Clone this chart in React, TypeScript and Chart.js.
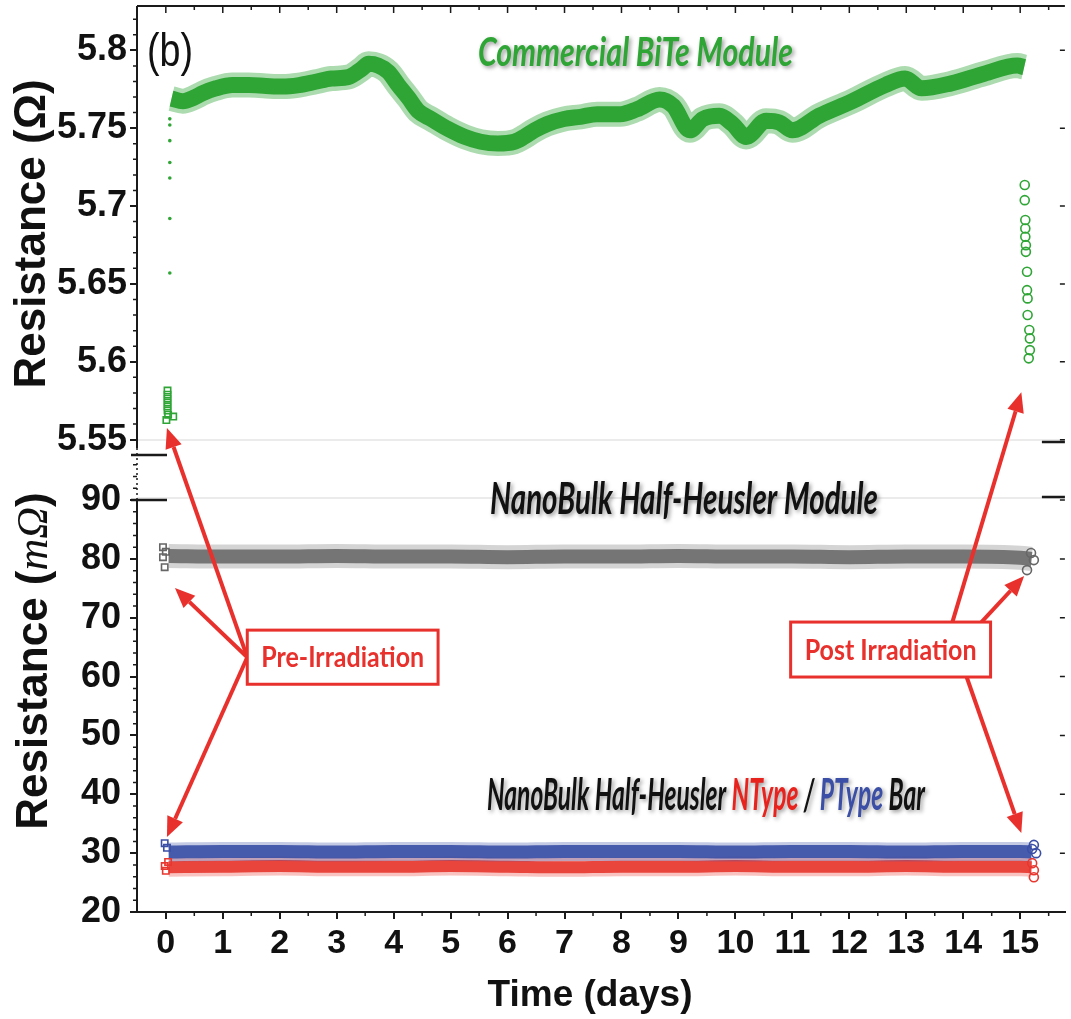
import { useEffect, useRef } from 'react';
import { Chart, registerables } from 'chart.js';

Chart.register(...registerables);

// ---- Commercial BiTe module, resistance in Ω ----
// trace through the dense band of readings
const biteDays = [0.1, 0.3, 0.48, 0.65, 0.88, 1.17, 1.46, 1.76, 2.05, 2.34, 2.63, 2.91, 3.21, 3.44, 3.56, 3.73, 3.91, 4.08, 4.26, 4.43, 4.66, 4.95, 5.25, 5.53, 5.83, 6.12, 6.29, 6.47, 6.7, 6.99, 7.28, 7.57, 7.98, 8.27, 8.67, 8.91, 9.2, 9.43, 9.72, 9.95, 10.19, 10.54, 10.77, 11.0, 11.47, 12.05, 12.63, 12.98, 13.27, 13.79, 14.37, 14.95, 15.07];
const biteOhm = [5.769, 5.7673, 5.7694, 5.7725, 5.7756, 5.7777, 5.7777, 5.7771, 5.7767, 5.7777, 5.7798, 5.7819, 5.7829, 5.7881, 5.7913, 5.7902, 5.786, 5.7777, 5.7694, 5.761, 5.7559, 5.7496, 5.7444, 5.7413, 5.7402, 5.7413, 5.7444, 5.7486, 5.7527, 5.7559, 5.7573, 5.759, 5.759, 5.7621, 5.7684, 5.7642, 5.7486, 5.7559, 5.758, 5.7527, 5.7444, 5.7548, 5.7537, 5.7486, 5.758, 5.7673, 5.7777, 5.7819, 5.7756, 5.7788, 5.785, 5.7902, 5.7892];
// first readings, rising to the steady level
const biteStartDays = [0.07, 0.07, 0.07, 0.07, 0.07, 0.07, 0.07];
const biteStartOhm = [5.657, 5.692, 5.718, 5.728, 5.742, 5.752, 5.756];
// pre-irradiation readings
const bitePreDays = [0.03, 0.03, 0.03, 0.03, 0.03, 0.03, 0.01, 0.13, 0.04];
const bitePreOhm = [5.5815, 5.5789, 5.5763, 5.5738, 5.5712, 5.5687, 5.5626, 5.5648, 5.566];
// post-irradiation readings
const bitePostDays = [15.08, 15.08, 15.09, 15.09, 15.09, 15.1, 15.1, 15.12, 15.12, 15.13, 15.13, 15.16, 15.17, 15.17, 15.15];
const bitePostOhm = [5.7135, 5.7038, 5.691, 5.6856, 5.6803, 5.6749, 5.6706, 5.6578, 5.646, 5.6407, 5.63, 5.6204, 5.615, 5.6075, 5.6022];

// ---- NanoBulk half-Heusler module and bars, resistance in mΩ ----
const hhDays = [0.05, 1, 2, 3, 4, 5, 6, 7, 8, 9, 10, 11, 12, 13, 14, 15, 15.2];
const hhModule = [80.5, 80.4, 80.4, 80.5, 80.4, 80.4, 80.3, 80.4, 80.4, 80.5, 80.4, 80.4, 80.3, 80.4, 80.4, 80.2, 80.0];
const hhNType = [27.6, 27.7, 27.8, 27.7, 27.7, 27.8, 27.7, 27.6, 27.7, 27.7, 27.8, 27.7, 27.7, 27.8, 27.7, 27.7, 27.6];
const hhPType = [30.2, 30.3, 30.3, 30.2, 30.3, 30.3, 30.2, 30.3, 30.3, 30.3, 30.2, 30.3, 30.3, 30.2, 30.3, 30.3, 30.2];
const modulePreDays = [-0.05, -0.05, -0.02, 0.0];
const modulePreVal = [82.0, 80.3, 78.6, 81.2];
const modulePostDays = [15.24, 15.12, 15.19];
const modulePostVal = [79.8, 78.1, 81.0];
const pTypePreDays = [-0.02, 0.02];
const pTypePreVal = [31.7, 30.9];
const nTypePreDays = [-0.02, 0.0, 0.04];
const nTypePreVal = [27.8, 27.0, 28.5];
const pTypePostDays = [15.24, 15.28, 15.21];
const pTypePostVal = [31.4, 30.0, 30.7];
const nTypePostDays = [15.21, 15.24, 15.24];
const nTypePostVal = [28.3, 27.1, 25.9];

// ---- axes ----
const dayTicks = [0, 1, 2, 3, 4, 5, 6, 7, 8, 9, 10, 11, 12, 13, 14, 15];
const ohmTicks = [5.55, 5.6, 5.65, 5.7, 5.75, 5.8];
const milliOhmTicks = [20, 30, 40, 50, 60, 70, 80, 90];

const pts = (xs: number[], ys: number[]) => xs.map((x, i) => ({ x, y: ys[i] }));

const SANS = '"Liberation Sans", Arial, sans-serif';
const HUMANIST = 'Lato, "Open Sans", sans-serif';
const INK = '#1a1a1a';
const GREEN = '#2ea535';
const BLUE = '#3a4fa5';
const RED = '#e8372f';
const ARROW = '#e8312c';

function band(data: { x: number; y: number }[], axis: string, color: string, width: number, order: number) {
  return {
    data,
    yAxisID: axis,
    borderColor: color,
    borderWidth: width,
    pointRadius: 0,
    showLine: true,
    fill: false,
    cubicInterpolationMode: 'monotone' as const,
    borderCapStyle: 'butt' as const,
    borderJoinStyle: 'round' as const,
    order,
  };
}

function marks(data: { x: number; y: number }[], axis: string, color: string, style: string, r: number, order: number, filled = false) {
  return {
    data,
    yAxisID: axis,
    showLine: false,
    pointStyle: style,
    pointRadius: r,
    pointBorderWidth: filled ? 0 : 1.6,
    pointBorderColor: color,
    pointBackgroundColor: filled ? color : 'rgba(255,255,255,0)',
    borderColor: color,
    backgroundColor: filled ? color : 'rgba(255,255,255,0)',
    order,
  };
}

function drawArrow(ctx: CanvasRenderingContext2D, x0: number, y0: number, x1: number, y1: number) {
  const ang = Math.atan2(y1 - y0, x1 - x0);
  const head = 20;
  const half = 8.5;
  const bx = x1 - head * Math.cos(ang);
  const by = y1 - head * Math.sin(ang);
  ctx.beginPath();
  ctx.moveTo(x0, y0);
  ctx.lineTo(bx, by);
  ctx.stroke();
  ctx.beginPath();
  ctx.moveTo(x1, y1);
  ctx.lineTo(bx + half * Math.sin(ang), by - half * Math.cos(ang));
  ctx.lineTo(bx - half * Math.sin(ang), by + half * Math.cos(ang));
  ctx.closePath();
  ctx.fill();
}

// draws text parts squeezed to span [x0, x1] on the given baseline
function fitText(ctx: CanvasRenderingContext2D, parts: [string, string][], font: string, x0: number, x1: number, baseline: number) {
  ctx.save();
  ctx.font = font;
  ctx.textAlign = 'left';
  ctx.textBaseline = 'alphabetic';
  const widths = parts.map((p) => ctx.measureText(p[0]).width);
  const total = widths.reduce((a, b) => a + b, 0);
  ctx.translate(x0, baseline);
  ctx.scale((x1 - x0) / total, 1);
  let x = 0;
  parts.forEach((p, i) => {
    ctx.fillStyle = p[1];
    ctx.fillText(p[0], x, 0);
    x += widths[i];
  });
  ctx.restore();
}

// arrow anchors: [day, value, axis]
const preFrom: [number, number] = [1.43, 63.3];
const preTargets: [number, number, string][] = [
  [0.02, 5.5574, 'yOhm'],
  [0.16, 75.05, 'yMilli'],
  [0.02, 32.74, 'yMilli'],
];
const postArrows: [[number, number], [number, number, string]][] = [
  [[13.81, 69.27], [15.02, 5.5805, 'yOhm']],
  [[14.32, 69.27], [15.07, 77.08, 'yMilli']],
  [[14.06, 59.93], [15.02, 33.42, 'yMilli']],
];
const preBox = { d0: 1.43, d1: 4.78, v0: 67.9, v1: 58.7 };
const postBox = { d0: 10.97, d1: 14.48, v0: 69.27, v1: 59.93 };

const noEdgePadding = (s: any) => {
  s.paddingTop = 0;
  s.paddingBottom = 0;
  s.paddingLeft = 0;
  s.paddingRight = 0;
};

const decorations = {
  id: 'decorations',
  beforeDatasetsDraw(chart: any) {
    const { ctx, chartArea: a, scales } = chart;
    const p90 = scales.yMilli.getPixelForValue(90);
    ctx.save();
    ctx.strokeStyle = '#e4e4e4';
    ctx.lineWidth = 1.5;
    [scales.yOhm.bottom - 15, p90 - 2].forEach((y: number) => {
      ctx.beginPath();
      ctx.moveTo(a.left, y);
      ctx.lineTo(a.right, y);
      ctx.stroke();
    });
    ctx.restore();
  },
  afterDatasetsDraw(chart: any) {
    const { ctx, chartArea: a, scales } = chart;
    const { x, yOhm, yMilli } = scales;
    const p90 = yMilli.getPixelForValue(90);
    const split = yOhm.bottom;

    ctx.save();
    ctx.strokeStyle = INK;
    ctx.lineWidth = 2;
    // left axis: solid, dotted across the break, solid
    ctx.beginPath();
    ctx.moveTo(a.left, a.top);
    ctx.lineTo(a.left, split - 7);
    ctx.moveTo(a.left, p90);
    ctx.lineTo(a.left, a.bottom);
    ctx.stroke();
    ctx.save();
    ctx.setLineDash([2, 3]);
    ctx.lineWidth = 1.5;
    ctx.beginPath();
    ctx.moveTo(a.left, split - 7);
    ctx.lineTo(a.left, p90);
    ctx.stroke();
    ctx.restore();
    // top frame
    ctx.beginPath();
    ctx.moveTo(a.left, a.top);
    ctx.lineTo(a.right, a.top);
    ctx.stroke();
    // break marks
    ctx.lineWidth = 2.5;
    ctx.beginPath();
    ctx.moveTo(a.left - 6, split);
    ctx.lineTo(a.left + 30, split);
    ctx.moveTo(a.left - 6, p90);
    ctx.lineTo(a.left + 30, p90);
    ctx.moveTo(a.right - 23, split - 13);
    ctx.lineTo(a.right, split - 13);
    ctx.moveTo(a.right - 23, p90 - 3);
    ctx.lineTo(a.right, p90 - 3);
    ctx.stroke();

    // minor ticks and inner ticks
    ctx.lineWidth = 1.5;
    ctx.beginPath();
    for (let k = 555; k <= 582; k++) {
      if (k % 5 === 0) continue;
      const y = yOhm.getPixelForValue(k / 100);
      ctx.moveTo(a.left - 4, y);
      ctx.lineTo(a.left, y);
    }
    for (let v = 20; v <= 96; v += 2) {
      if (v % 10 === 0) continue;
      const y = yMilli.getPixelForValue(v);
      ctx.moveTo(a.left - 4, y);
      ctx.lineTo(a.left, y);
    }
    for (let d = 0.5; d <= 15.5; d += 1) {
      const px = x.getPixelForValue(d);
      ctx.moveTo(px, a.bottom);
      ctx.lineTo(px, a.bottom + 4);
    }
    for (let d = 0; d <= 15.5; d += 0.5) {
      const px = x.getPixelForValue(d);
      ctx.moveTo(px, a.top);
      ctx.lineTo(px, a.top + (d % 1 === 0 ? 7 : 4));
    }
    ohmTicks.forEach((v) => {
      const y = yOhm.getPixelForValue(v);
      ctx.moveTo(a.right - 5, y);
      ctx.lineTo(a.right, y);
    });
    milliOhmTicks.forEach((v) => {
      const y = yMilli.getPixelForValue(v);
      ctx.moveTo(a.right - 5, y);
      ctx.lineTo(a.right, y);
    });
    ctx.stroke();
    ctx.restore();

    // irradiation call-outs
    ctx.save();
    ctx.strokeStyle = ARROW;
    ctx.fillStyle = ARROW;
    ctx.lineWidth = 4;
    ctx.lineCap = 'butt';
    const fx = x.getPixelForValue(preFrom[0]);
    const fy = yMilli.getPixelForValue(preFrom[1]);
    preTargets.forEach(([d, v, ax]) => {
      drawArrow(ctx, fx, fy, x.getPixelForValue(d), scales[ax].getPixelForValue(v));
    });
    postArrows.forEach(([[d0, v0], [d1, v1, ax]]) => {
      drawArrow(ctx, x.getPixelForValue(d0), yMilli.getPixelForValue(v0), x.getPixelForValue(d1), scales[ax].getPixelForValue(v1));
    });
    ctx.lineWidth = 3;
    const boxes: [typeof preBox, string][] = [
      [preBox, 'Pre-Irradiation'],
      [postBox, 'Post Irradiation'],
    ];
    boxes.forEach(([b, label]) => {
      const bx0 = x.getPixelForValue(b.d0);
      const bx1 = x.getPixelForValue(b.d1);
      const by0 = yMilli.getPixelForValue(b.v0);
      const by1 = yMilli.getPixelForValue(b.v1);
      ctx.fillStyle = '#ffffff';
      ctx.fillRect(bx0, by0, bx1 - bx0, by1 - by0);
      ctx.strokeRect(bx0, by0, bx1 - bx0, by1 - by0);
      const pad = 14;
      fitText(ctx, [[label, ARROW]], `bold 29px ${HUMANIST}`, bx0 + pad, bx1 - pad, (by0 + by1) / 2 + 10);
    });
    ctx.restore();

    // panel titles
    ctx.save();
    ctx.shadowColor = 'rgba(0,0,0,0.4)';
    ctx.shadowBlur = 4;
    ctx.shadowOffsetX = 2;
    ctx.shadowOffsetY = 2;
    fitText(ctx, [['Commercial BiTe Module', GREEN]], `italic bold 40px ${HUMANIST}`, 478, 793, 66);
    fitText(ctx, [['NanoBulk Half-Heusler Module', '#111111']], `italic bold 44px ${HUMANIST}`, 490, 878, 514);
    fitText(
      ctx,
      [
        ['NanoBulk Half-Heusler ', '#111111'],
        ['NType', '#e8231d'],
        [' / ', '#111111'],
        ['PType', BLUE],
        [' Bar', '#111111'],
      ],
      `italic bold 44px ${HUMANIST}`,
      487,
      925,
      810,
    );
    ctx.restore();

    fitText(ctx, [['(b)', '#111111']], `46px ${SANS}`, 147, 193, 66);
  },
  afterDraw(chart: any) {
    const { ctx } = chart;
    ctx.save();
    ctx.fillStyle = '#111111';
    ctx.textBaseline = 'alphabetic';
    // x title
    ctx.font = `bold 37px ${SANS}`;
    ctx.textAlign = 'center';
    ctx.fillText('Time (days)', 590, 1006);
    // upper y title
    ctx.save();
    ctx.translate(45, 234);
    ctx.rotate(-Math.PI / 2);
    ctx.font = `bold 44px ${SANS}`;
    ctx.fillText('Resistance (Ω)', 0, 0);
    ctx.restore();
    // lower y title, with italic math units
    ctx.save();
    ctx.translate(47, 661);
    ctx.rotate(-Math.PI / 2);
    ctx.textAlign = 'left';
    const parts: [string, string][] = [
      ['Resistance (', `bold 44px ${SANS}`],
      ['m', `italic 44px "Liberation Serif", "DejaVu Serif", serif`],
      ['Ω', `italic 44px "Liberation Serif", "DejaVu Serif", serif`],
      [')', `bold 44px ${SANS}`],
    ];
    const widths = parts.map(([t, f]) => {
      ctx.font = f;
      return ctx.measureText(t).width;
    });
    let px = -widths.reduce((s, w) => s + w, 0) / 2;
    parts.forEach(([t, f], i) => {
      ctx.font = f;
      ctx.fillText(t, px, 0);
      px += widths[i];
    });
    ctx.restore();
    ctx.restore();
  },
};

export default function App() {
  const canvasRef = useRef<HTMLCanvasElement | null>(null);

  useEffect(() => {
    const canvas = canvasRef.current;
    if (!canvas) return;

    const tickFont = (size: number) => ({ family: SANS, weight: 'bold' as const, size });

    const chart = new Chart(canvas, {
      type: 'line',
      data: {
        datasets: [
          marks(pts(bitePreDays, bitePreOhm), 'yOhm', GREEN, 'rect', 4.5, 1),
          marks(pts(bitePostDays, bitePostOhm), 'yOhm', GREEN, 'circle', 4.5, 1),
          marks(pts(modulePreDays, modulePreVal), 'yMilli', '#666666', 'rect', 4.5, 1),
          marks(pts(modulePostDays, modulePostVal), 'yMilli', '#666666', 'circle', 4.5, 1),
          marks(pts(pTypePreDays, pTypePreVal), 'yMilli', BLUE, 'rect', 4.5, 1),
          marks(pts(nTypePreDays, nTypePreVal), 'yMilli', RED, 'rect', 4.5, 1),
          marks(pts(pTypePostDays, pTypePostVal), 'yMilli', BLUE, 'circle', 4.5, 1),
          marks(pts(nTypePostDays, nTypePostVal), 'yMilli', RED, 'circle', 4.5, 1),
          marks(pts(biteStartDays, biteStartOhm), 'yOhm', GREEN, 'circle', 1.8, 2, true),
          band(pts(biteDays, biteOhm), 'yOhm', GREEN, 16, 10),
          band(pts(biteDays, biteOhm), 'yOhm', 'rgba(46,165,53,0.4)', 25, 11),
          band(pts(hhDays, hhModule), 'yMilli', 'rgba(90,90,90,0.78)', 14, 10),
          band(pts(hhDays, hhModule), 'yMilli', 'rgba(100,100,100,0.28)', 24, 11),
          band(pts(hhDays, hhPType), 'yMilli', 'rgba(58,79,165,0.9)', 13, 12),
          band(pts(hhDays, hhPType), 'yMilli', 'rgba(58,79,165,0.3)', 19, 13),
          band(pts(hhDays, hhNType), 'yMilli', 'rgba(232,55,47,0.9)', 12, 14),
          band(pts(hhDays, hhNType), 'yMilli', 'rgba(232,55,47,0.3)', 19, 15),
        ],
      },
      options: {
        responsive: false,
        animation: false,
        devicePixelRatio: 1,
        layout: { padding: { top: 6, right: 0, bottom: 0, left: 0 } },
        plugins: { legend: { display: false }, tooltip: { enabled: false } },
        scales: {
          x: {
            type: 'linear',
            min: -0.506,
            max: 15.785,
            afterBuildTicks: (s: any) => {
              s.ticks = dayTicks.map((value) => ({ value }));
            },
            afterFit: (s: any) => {
              s.height = 107;
              noEdgePadding(s);
            },
            grid: { drawOnChartArea: false, tickLength: 7, color: INK, lineWidth: 2 },
            border: { display: true, color: INK, width: 2 },
            ticks: {
              autoSkip: false,
              maxRotation: 0,
              padding: 4,
              color: '#111111',
              font: tickFont(34),
              callback: (v: any) => String(v),
            },
          },
          yMilli: {
            type: 'linear',
            position: 'left',
            stack: 'resistance',
            stackWeight: 457,
            min: 20,
            max: 97.65,
            afterBuildTicks: (s: any) => {
              s.ticks = milliOhmTicks.map((value) => ({ value }));
            },
            afterFit: (s: any) => {
              s.width = 137;
              noEdgePadding(s);
            },
            grid: { drawOnChartArea: false, tickLength: 7, color: INK, lineWidth: 2 },
            border: { display: false },
            ticks: { padding: 9, color: '#111111', font: tickFont(36), autoSkip: false, callback: (v: any) => String(v) },
          },
          yOhm: {
            type: 'linear',
            position: 'left',
            stack: 'resistance',
            stackWeight: 449,
            min: 5.5401,
            max: 5.8284,
            afterBuildTicks: (s: any) => {
              s.ticks = ohmTicks.map((value) => ({ value }));
            },
            afterFit: (s: any) => {
              s.width = 137;
              noEdgePadding(s);
            },
            grid: { drawOnChartArea: false, tickLength: 7, color: INK, lineWidth: 2 },
            border: { display: false },
            ticks: {
              padding: 3,
              color: '#111111',
              font: tickFont(36),
              autoSkip: false,
              callback: (v: any) => String(Number(Number(v).toFixed(2))),
            },
          },
        },
      },
      plugins: [decorations],
    } as any);

    return () => chart.destroy();
  }, []);

  return (
    <div style={{ position: 'absolute', left: 0, top: 0, width: 1071, height: 1019, background: '#ffffff' }}>
      <canvas ref={canvasRef} width={1071} height={1019} />
    </div>
  );
}
